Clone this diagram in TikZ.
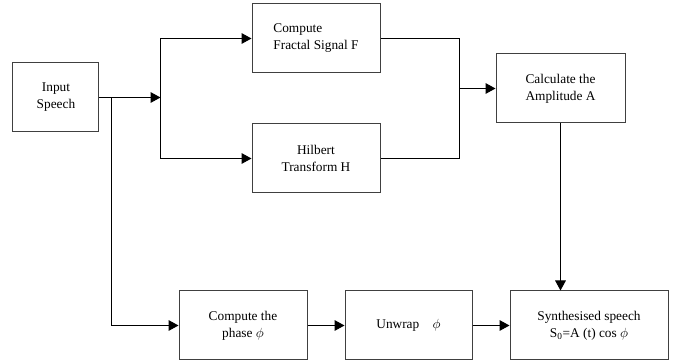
\documentclass[tikz,border=0pt]{standalone}
\usepackage{fontspec}
\setmainfont{Liberation Serif}
\usetikzlibrary{arrows.meta}
\usetikzlibrary{positioning}

\tikzset{
  blk/.style={draw=black!75, line width=0.75pt, minimum width=96pt, minimum height=51.75pt,
    inner sep=0pt, align=center, font=\fontsize{10}{12.75}\selectfont},
  flow/.style={line width=0.75pt, -{Triangle[length=7.5pt,width=8pt]}},
  wire/.style={line width=0.75pt}
}

\begin{document}
\begin{tikzpicture}
  \useasboundingbox (-42pt,-199.125pt) rectangle (467.25pt,73.125pt);

  \node[blk, minimum width=64.5pt] (in) {Input\\Speech};
  \node[blk, right=114pt of in, yshift=44.25pt, align=left] (frac) {Compute\\Fractal Signal F};
  \node[blk, below=37.5pt of frac] (hilb) {Hilbert\\Transform H};
  \node[blk, right=86.25pt of frac, yshift=-37.5pt, minimum width=96.75pt] (amp) {Calculate the\\Amplitude A};
  \node[blk, below right=118.5pt and 59.25pt of in] (phase) {Compute the\\phase $\phi$};
  \node[blk, right=27.75pt of phase, minimum width=95.25pt] (unwrap) {Unwrap\quad$\phi$};
  \node[blk, right=27.75pt of unwrap, minimum width=118.5pt] (synth) {Synthesised speech\\S\textsubscript{0}=A (t) cos $\phi$};

  % input splits to the two branches and the phase path
  \coordinate[right=9pt of in] (sp);
  \coordinate[right=36.75pt of sp] (fork);
  \draw[flow] (in.east) -- (fork);
  \draw[flow] (fork) |- (frac.west);
  \draw[flow] (fork) |- (hilb.west);
  \draw[flow] (sp) |- (phase.west);

  % F and H merge into the amplitude
  \coordinate[left=27pt of amp.west] (mg);
  \draw[wire] (frac.east) -| (mg) |- (hilb.east);
  \draw[flow] (mg) -- (amp.west);

  \draw[flow] (phase) -- (unwrap);
  \draw[flow] (unwrap) -- (synth);
  \draw[flow] (amp.south) -- (amp.south |- synth.north);
\end{tikzpicture}
\end{document}
